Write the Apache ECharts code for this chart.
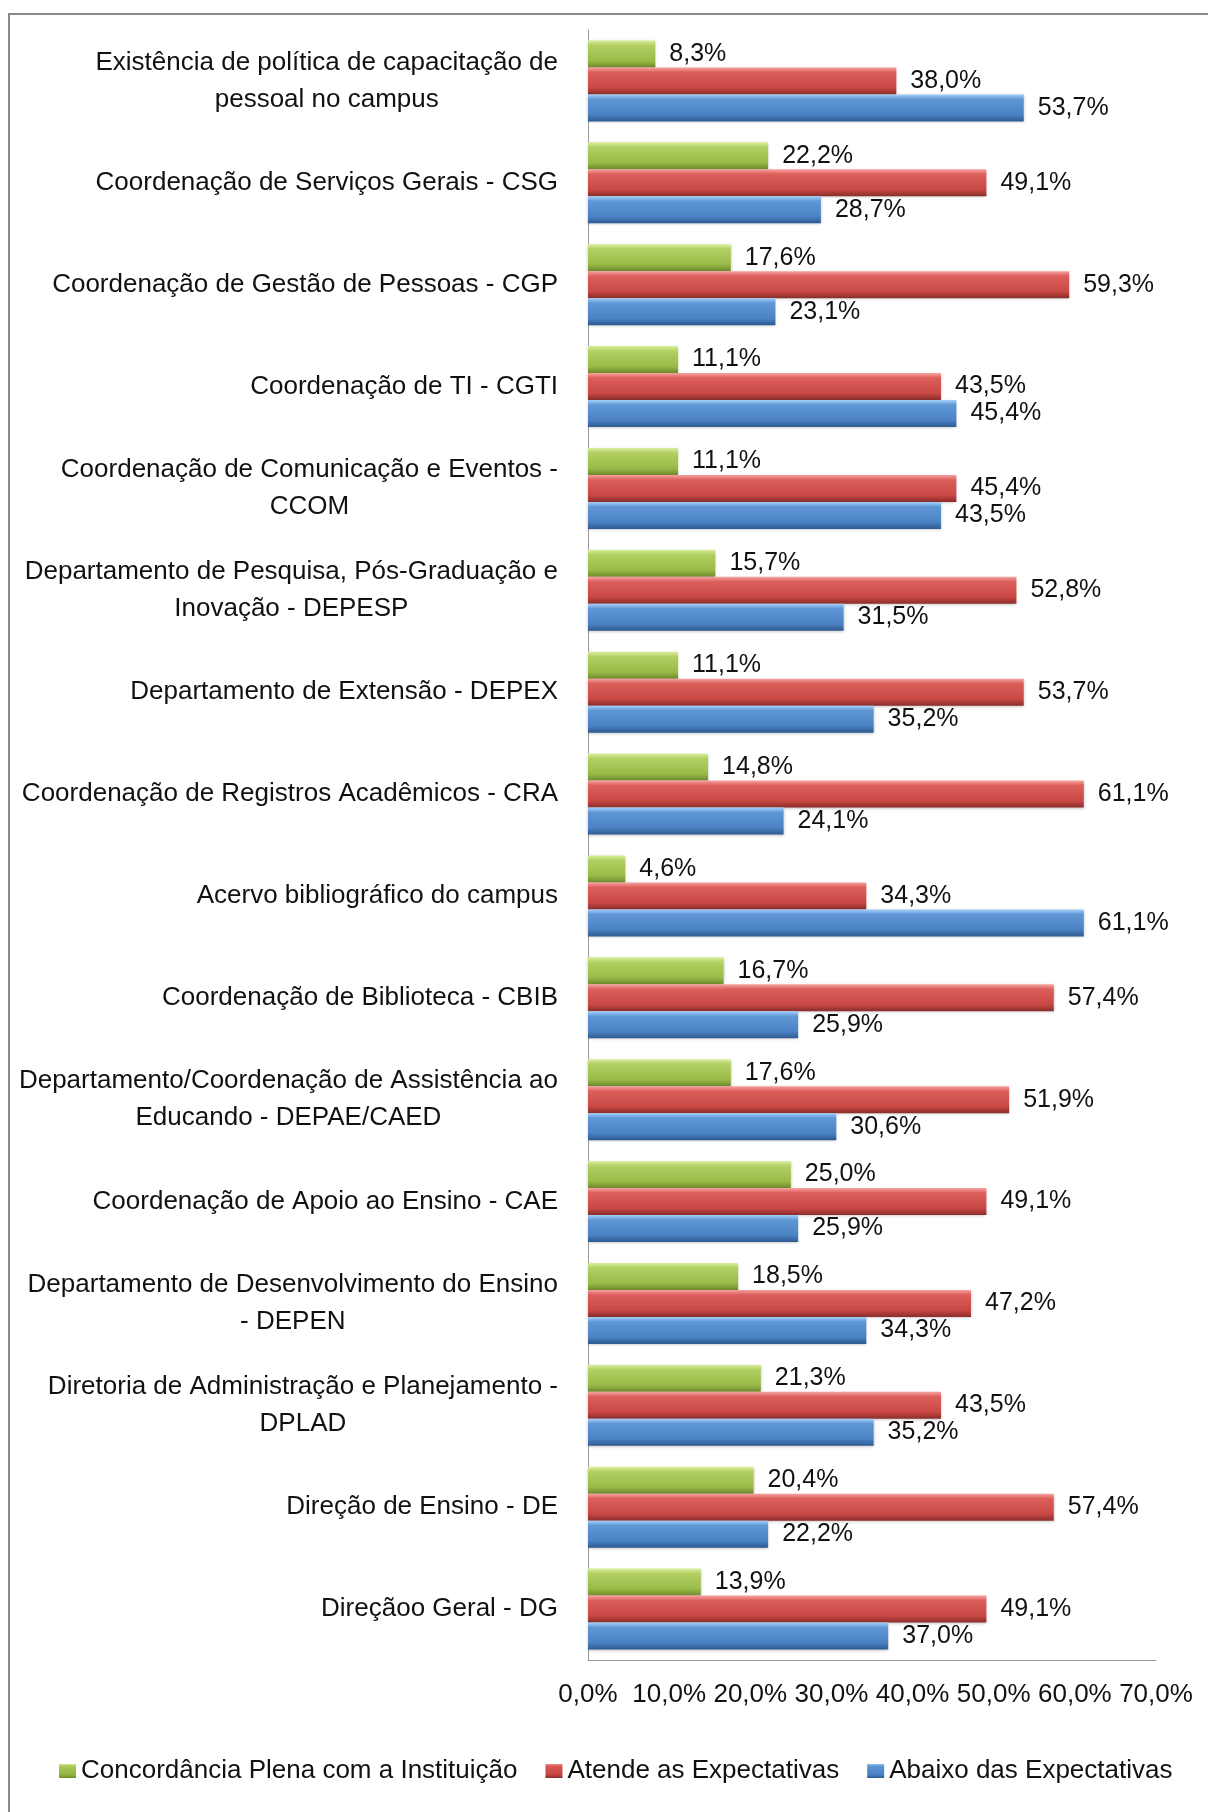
<!DOCTYPE html>
<html>
<head>
<meta charset="utf-8">
<script src="https://cdn.jsdelivr.net/npm/echarts@6/dist/echarts.min.js"></script>
<style>
html,body{margin:0;padding:0;background:#fff;}
#chart{width:1208px;height:1812px;}
</style>
</head>
<body>
<div id="chart"></div>
<script>
const categories = [
  'Existência de política de capacitação de\npessoal no campus',
  'Coordenação de Serviços Gerais - CSG',
  'Coordenação de Gestão de Pessoas - CGP',
  'Coordenação de TI - CGTI',
  'Coordenação de Comunicação e Eventos -\nCCOM',
  'Departamento de Pesquisa, Pós-Graduação e\nInovação - DEPESP',
  'Departamento de Extensão - DEPEX',
  'Coordenação de Registros Acadêmicos - CRA',
  'Acervo bibliográfico do campus',
  'Coordenação de Biblioteca - CBIB',
  'Departamento/Coordenação de Assistência ao\nEducando - DEPAE/CAED',
  'Coordenação de Apoio ao Ensino - CAE',
  'Departamento de Desenvolvimento do Ensino\n- DEPEN',
  'Diretoria de Administração e Planejamento -\nDPLAD',
  'Direção de Ensino - DE',
  'Direçãoo Geral - DG'
];
const seriesNames = ['Concordância Plena com a Instituição', 'Atende as Expectativas', 'Abaixo das Expectativas'];
const concordancia = [8.3, 22.2, 17.6, 11.1, 11.1, 15.7, 11.1, 14.8, 4.6, 16.7, 17.6, 25.0, 18.5, 21.3, 20.4, 13.9];
const atende       = [38.0, 49.1, 59.3, 43.5, 45.4, 52.8, 53.7, 61.1, 34.3, 57.4, 51.9, 49.1, 47.2, 43.5, 57.4, 49.1];
const abaixo       = [53.7, 28.7, 23.1, 45.4, 43.5, 31.5, 35.2, 24.1, 61.1, 25.9, 30.6, 25.9, 34.3, 35.2, 22.2, 37.0];
const xMin = 0, xMax = 70, xStep = 10;

const FONT = '"Liberation Sans", Arial, sans-serif';
const fmt = v => Number(v).toFixed(1).replace('.', ',') + '%';

function grad(c0, c1, c2, c3) {
  return new echarts.graphic.LinearGradient(0, 0, 0, 1, [
    {offset: 0, color: c0},
    {offset: 0.18, color: c1},
    {offset: 0.75, color: c2},
    {offset: 1, color: c3}
  ]);
}
const styles = [
  {color: grad('#dbefa0', '#b2d063', '#9aba48', '#6e8a2c'), legend: grad('#cfe68a', '#a8c855', '#94b444', '#6e8a2c')},
  {color: grad('#f7a3a1', '#dc5f5c', '#c94845', '#8a2d2a'), legend: grad('#f08a88', '#d85653', '#c44643', '#8a2d2a')},
  {color: grad('#a6d0fa', '#5f97d6', '#4a82c3', '#2d5a90'), legend: grad('#8cc0f2', '#5a92d2', '#4a82c3', '#2d5a90')}
];
const dataSets = [concordancia, atende, abaixo];

const chart = echarts.init(document.getElementById('chart'), null, {renderer: 'canvas'});
chart.setOption({
  animation: false,
  backgroundColor: '#fff',
  textStyle: {fontFamily: FONT},
  graphic: [{
    type: 'rect',
    shape: {x: 9, y: 14, width: 1400, height: 2000},
    style: {fill: 'none', stroke: '#8a8a8a', lineWidth: 2},
    silent: true
  }],
  grid: {left: 588, right: 52, top: 30, bottom: 152, containLabel: false},
  legend: {
    left: 54, top: 1753,
    itemWidth: 17, itemHeight: 14, itemGap: 28,
    icon: 'rect',
    textStyle: {fontFamily: FONT, fontSize: 26, color: '#111'},
    data: seriesNames.map((n, i) => ({name: n, itemStyle: {color: styles[i].legend}}))
  },
  xAxis: {
    type: 'value', min: xMin, max: xMax, interval: xStep,
    axisLine: {show: true, lineStyle: {color: '#9a9a9a', width: 1}},
    axisTick: {show: false},
    splitLine: {show: false},
    axisLabel: {fontFamily: FONT, fontSize: 26, color: '#111', margin: 22, formatter: fmt}
  },
  yAxis: {
    type: 'category', inverse: true, data: categories,
    axisLine: {show: true, lineStyle: {color: '#9a9a9a', width: 1}},
    axisTick: {show: false},
    axisLabel: {
      margin: 30, align: 'right', color: '#111',
      fontFamily: FONT, fontSize: 26, lineHeight: 37,
      formatter: v => v.split('\n').map(l => '{c|' + l + '}').join('\n'),
      rich: {c: {align: 'center', fontFamily: FONT, fontSize: 26, lineHeight: 37, color: '#111'}}
    }
  },
  series: dataSets.map((d, i) => ({
    name: seriesNames[i],
    type: 'bar',
    data: d,
    barWidth: 27,
    barGap: '0%',
    itemStyle: {color: styles[i].color, shadowColor: 'rgba(0,0,0,0.25)', shadowBlur: 3, shadowOffsetY: 1},
    label: {
      show: true, position: 'right', distance: 14,
      fontFamily: FONT, fontSize: 25, color: '#111',
      formatter: p => fmt(p.value)
    }
  }))
});
</script>
</body>
</html>
